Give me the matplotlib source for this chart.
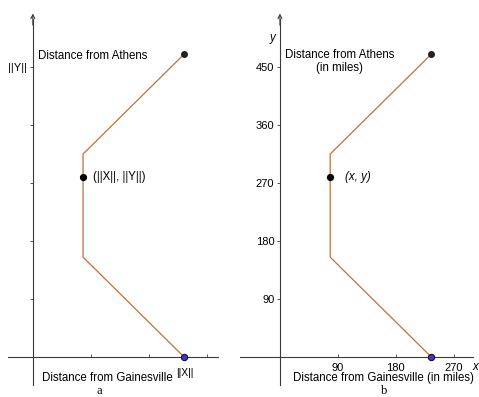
import matplotlib
matplotlib.use("Agg")
import matplotlib.pyplot as plt

# distance from Gainesville (x) and from Athens (y), in miles
path_x = [235, 78, 78, 235]
path_y = [470, 315, 155, 0]
mid_x = 78
mid_y = 280
ticks = [90, 180, 270, 360, 450]
xticks = [90, 180, 270]

LINE = "#c0703a"
AXC = "#3a3a3a"
plt.rcParams['font.family'] = ['Liberation Sans', 'DejaVu Sans']

fig = plt.figure(figsize=(4.79, 3.97), dpi=100)
W, H = 479, 397


def setup(ax, xlim, xb):
    ax.set_xlim(*xlim)
    ax.set_ylim(-62, 554)
    for s in ['top', 'right']:
        ax.spines[s].set_visible(False)
    ax.spines['left'].set_position(('data', 0))
    ax.spines['bottom'].set_position(('data', 0))
    ax.spines['left'].set_bounds(-43, 525)
    ax.spines['bottom'].set_bounds(*xb)
    for s in ['left', 'bottom']:
        ax.spines[s].set_color(AXC)
        ax.spines[s].set_linewidth(0.8)
    ax.annotate('', xy=(0, 533), xytext=(0, 515),
                arrowprops=dict(arrowstyle='->', lw=0.8, color=AXC,
                                shrinkA=0, shrinkB=0, mutation_scale=7))
    ax.set_yticks(ticks)
    ax.set_xticks(xticks)
    ax.tick_params(axis='y', direction='out', length=2.5, width=0.6,
                   color=AXC, pad=1.5, labelsize=8)
    ax.tick_params(axis='x', direction='in', length=2.5, width=0.6,
                   color=AXC, pad=4, labelsize=8)
    ax.patch.set_alpha(0)

    ax.plot(path_x, path_y, color=LINE, lw=0.9, zorder=3)
    ax.plot(path_x[0], path_y[0], 'o', color='#222222', ms=4, zorder=4)
    ax.plot(mid_x, mid_y, 'o', color='black', ms=4.2, zorder=4)
    ax.plot(path_x[-1], path_y[-1], 'o', color='#4433cc', mec='#111133',
            mew=0.8, ms=4.5, zorder=4, clip_on=False)


# panel a
ax1 = fig.add_axes([0, 0, 235 / W, 1])
setup(ax1, (-51, 314), (-39, 287))
ax1.set_yticklabels(['', '', '', '', '||Y||'])
ax1.set_xticklabels(['', '', ''])
ax1.text(8, 467, "Distance from Athens", fontsize=8.3, ha='left', va='center')
ax1.text(93, 279, "(||X||, ||Y||)", fontsize=8.3, ha='left', va='center')
ax1.text(14, -33, "Distance from Gainesville", fontsize=8.3, ha='left', va='center')
ax1.text(236, -24, "||X||", fontsize=7.5, ha='center', va='center')
ax1.text(104, -53, "a", fontsize=9, ha='center', va='center',
         family='Liberation Serif')

# panel b
ax2 = fig.add_axes([240 / W, 0, 239 / W, 1])
setup(ax2, (-62, 309), (-62, 300))
ax2.set_yticklabels([str(t) for t in ticks])
ax2.set_xticklabels([str(t) for t in xticks])
ax2.text(-12, 495, "y", fontsize=8.3, style='italic', ha='center', va='center')
ax2.text(92, 458, "Distance from Athens\n(in miles)", fontsize=8.3,
         ha='center', va='center', multialignment='center', linespacing=1.1)
ax2.text(101, 279, "(x, y)", fontsize=8.3, style='italic', ha='left', va='center')
ax2.text(304, -15, "x", fontsize=8.3, style='italic', ha='center', va='center')
ax2.text(161, -33, "Distance from Gainesville (in miles)", fontsize=8.3,
         ha='center', va='center')
ax2.text(161, -53, "b", fontsize=9, ha='center', va='center',
         family='Liberation Serif')

fig.savefig("out.png", dpi=100)
